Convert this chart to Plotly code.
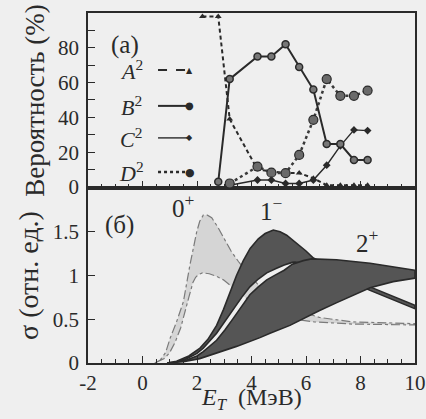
import plotly.graph_objects as go

# ---------------- data: top panel (probabilities, %) ----------------
e_A2 = [2.2, 2.78, 3.2, 4.22, 4.73, 5.25, 5.75, 6.27, 6.76, 7.26, 7.76, 8.26]
p_A2 = [98, 98, 39, 10, 9, 8, 8, 5, 1, 1, 1, 1]
e_B2 = [2.78, 3.2, 4.22, 4.73, 5.25, 5.75, 6.27, 6.76, 7.26, 7.76, 8.26]
p_B2 = [3, 62, 75, 75, 82, 69, 56, 24.7, 24.7, 15.5, 15.5]
e_C2 = [3.2, 4.22, 4.73, 5.25, 5.75, 6.27, 6.76, 7.26, 7.76, 8.26]
p_C2 = [1, 4, 4, 2, 2, 4, 12.5, 23.6, 32.8, 32.4]
e_D2 = [3.2, 4.22, 4.73, 5.25, 5.75, 6.27, 6.76, 7.26, 7.76, 8.26]
p_D2 = [2, 11.7, 8.2, 7.9, 18.4, 38.6, 62, 52.4, 52.4, 55.4]

# ---------------- data: bottom panel (cross-section bands) ----------------
e_0p_hi = [0.45, 0.64, 0.85, 1.01, 1.25, 1.5, 1.74, 1.99, 2.1, 2.23, 2.38, 2.54, 2.75, 2.97, 3.25, 3.52, 3.85, 4.2, 4.6, 5.0, 5.4, 5.8, 6.5, 7.7, 9.0, 10.0]
s_0p_hi = [0.0, 0.03, 0.12, 0.28, 0.47, 0.70, 1.12, 1.50, 1.62, 1.69, 1.69, 1.66, 1.56, 1.43, 1.28, 1.16, 1.03, 0.91, 0.80, 0.71, 0.64, 0.59, 0.52, 0.47, 0.455, 0.45]
e_0p_lo = [0.45, 0.8, 1.0, 1.2, 1.4, 1.55, 1.7, 1.85, 1.95, 2.05, 2.2, 2.45, 2.72, 2.97, 3.21, 3.5, 3.82, 4.5, 5.2, 5.8, 6.3, 7.7, 9.0, 10.0]
s_0p_lo = [0.0, 0.05, 0.12, 0.24, 0.40, 0.56, 0.75, 0.92, 0.98, 1.01, 1.03, 1.02, 0.99, 0.95, 0.89, 0.81, 0.74, 0.62, 0.54, 0.49, 0.47, 0.445, 0.44, 0.435]

e_1m_hi = [0.9, 1.25, 1.7, 2.11, 2.4, 2.72, 2.97, 3.21, 3.45, 3.70, 3.95, 4.25, 4.5, 4.8, 5.05, 5.29, 5.66, 6.0, 6.27, 7.0, 7.7, 8.35, 9.2, 10.0]
s_1m_hi = [0.0, 0.02, 0.08, 0.17, 0.27, 0.43, 0.61, 0.81, 1.00, 1.17, 1.31, 1.42, 1.48, 1.52, 1.50, 1.46, 1.37, 1.28, 1.20, 1.08, 0.97, 0.87, 0.76, 0.66]
e_1m_lo = [0.9, 1.5, 2.0, 2.23, 2.72, 3.03, 3.33, 3.64, 3.94, 4.25, 4.56, 4.9, 5.2, 5.5, 5.6, 6.2, 7.0, 7.7, 8.35, 9.2, 10.0]
s_1m_lo = [0.0, 0.03, 0.11, 0.17, 0.34, 0.47, 0.61, 0.75, 0.87, 0.96, 1.03, 1.08, 1.12, 1.15, 1.155, 1.12, 1.02, 0.92, 0.83, 0.72, 0.62]

e_2p_hi = [0.9, 1.5, 2.0, 2.23, 2.72, 3.03, 3.33, 3.64, 3.94, 4.25, 4.56, 4.9, 5.2, 5.5, 5.9, 6.2, 7.12, 8.35, 10.0]
s_2p_hi = [0.0, 0.02, 0.08, 0.13, 0.26, 0.38, 0.51, 0.65, 0.78, 0.87, 0.95, 1.01, 1.06, 1.13, 1.17, 1.19, 1.18, 1.14, 1.06]
e_2p_lo = [0.9, 1.5, 2.1, 2.72, 3.45, 4.31, 4.68, 5.41, 5.9, 6.5, 7.13, 7.75, 8.35, 9.2, 10.0]
s_2p_lo = [0.0, 0.015, 0.05, 0.11, 0.19, 0.29, 0.34, 0.43, 0.51, 0.60, 0.69, 0.78, 0.86, 0.93, 0.97]

x_ticks = [-2, 0, 2, 4, 6, 8, 10]
x_text = ["-2", "0", "2", "4", "6", "8", "10"]
y_top_ticks = [0, 20, 40, 60, 80]
y_top_text = ["0", "20", "40", "60", "80"]
y_bot_ticks = [0, 0.5, 1, 1.5]
y_bot_text = ["0", "0.5", "1", "1.5"]

# ---------------- styling ----------------
BG = "#efefef"
INK = "#2a2a2a"
FONT = "Liberation Serif, Times New Roman, DejaVu Serif, serif"

fig = go.Figure()

def band(e_hi, s_hi, e_lo, s_lo, fill, line, dash, width, name):
    xs = list(e_hi) + list(e_lo)[::-1]
    ys = list(s_hi) + list(s_lo)[::-1]
    fig.add_trace(go.Scatter(
        x=xs, y=ys, mode="lines", fill="toself", fillcolor=fill,
        line=dict(color=line, width=width, dash=dash),
        xaxis="x", yaxis="y", name=name, showlegend=False, hoverinfo="skip"))

band(e_0p_hi, s_0p_hi, e_0p_lo, s_0p_lo, "#d5d5d5", "#7a7a7a", "dashdot", 1.2, "0+")
band(e_1m_hi, s_1m_hi, e_1m_lo, s_1m_lo, "#555555", "#2a2a2a", "solid", 1.6, "1-")
band(e_2p_hi, s_2p_hi, e_2p_lo, s_2p_lo, "#555555", "#2a2a2a", "solid", 1.6, "2+")

# top panel lines
fig.add_trace(go.Scatter(x=e_A2, y=p_A2, mode="lines+markers", xaxis="x2", yaxis="y2",
                         line=dict(color=INK, width=2, dash="4px,3px"),
                         marker=dict(symbol="triangle-up", size=6, color=INK),
                         showlegend=False, name="A2"))
fig.add_trace(go.Scatter(x=e_C2, y=p_C2, mode="lines+markers", xaxis="x2", yaxis="y2",
                         line=dict(color=INK, width=1.4),
                         marker=dict(symbol="diamond", size=6, color=INK),
                         showlegend=False, name="C2"))
fig.add_trace(go.Scatter(x=e_D2, y=p_D2, mode="lines+markers", xaxis="x2", yaxis="y2",
                         line=dict(color="#3a3a3a", width=2.5, dash="dot"),
                         marker=dict(symbol="circle", size=9, color="#6a6a6a",
                                     line=dict(color="#2a2a2a", width=1.2)),
                         showlegend=False, name="D2"))
fig.add_trace(go.Scatter(x=e_B2, y=p_B2, mode="lines+markers", xaxis="x2", yaxis="y2",
                         line=dict(color=INK, width=2),
                         marker=dict(symbol="circle", size=7, color="#777777",
                                     line=dict(color=INK, width=1.5)),
                         showlegend=False, name="B2"))

annotations = []
shapes = []

# legend (drawn manually: label, line sample, marker at right end)
leg = [("<i>A</i><sup>2</sup>", 67.2, "dash", 2, "▲", 8),
       ("<i>B</i><sup>2</sup>", 46.6, "solid", 2, "●", 10),
       ("<i>C</i><sup>2</sup>", 28.2, "solid", 1.4, "◆", 8),
       ("<i>D</i><sup>2</sup>", 8.6, "dot", 2.5, "●", 11)]
for txt, yv, dash, w, glyph, gs in leg:
    annotations.append(dict(x=-0.42, y=yv, xref="x2", yref="y2", text=txt, showarrow=False,
                            font=dict(family=FONT, size=22, color=INK)))
    shapes.append(dict(type="line", xref="x2", yref="y2", x0=0.57, x1=1.70, y0=yv, y1=yv,
                       line=dict(color=INK, width=w, dash=dash)))
    annotations.append(dict(x=1.74, y=yv, xref="x2", yref="y2", text=glyph, showarrow=False,
                            font=dict(family="DejaVu Sans", size=gs, color=INK)))

annotations.append(dict(x=-0.64, y=81.6, xref="x2", yref="y2", text="(а)", showarrow=False,
                        font=dict(family=FONT, size=25, color=INK)))
annotations.append(dict(x=-0.83, y=1.58, xref="x", yref="y", text="(б)", showarrow=False,
                        font=dict(family=FONT, size=25, color=INK)))
annotations.append(dict(x=1.49, y=1.80, xref="x", yref="y", text="0<sup>+</sup>", showarrow=False,
                        font=dict(family=FONT, size=25, color=INK)))
annotations.append(dict(x=4.75, y=1.76, xref="x", yref="y", text="1<sup>−</sup>", showarrow=False,
                        font=dict(family=FONT, size=25, color=INK)))
annotations.append(dict(x=8.25, y=1.39, xref="x", yref="y", text="2<sup>+</sup>", showarrow=False,
                        font=dict(family=FONT, size=25, color=INK)))
# x-axis title placed under the tick labels
annotations.append(dict(x=0.5, y=-0.104, xref="paper", yref="paper", yanchor="middle",
                        text="<i>E</i><sub><i>T</i></sub>  (МэВ)", showarrow=False,
                        font=dict(family=FONT, size=24, color=INK)))

axis_common = dict(showline=True, linecolor=INK, linewidth=1.5, mirror=True,
                   ticks="inside", tickcolor=INK, showgrid=False, zeroline=False,
                   automargin=False, ticklabeloverflow="allow",
                   tickfont=dict(family=FONT, size=21, color=INK))

fig.update_layout(
    width=426, height=419,
    margin=dict(l=88, r=11, t=13, b=56, autoexpand=False),
    paper_bgcolor=BG, plot_bgcolor=BG,
    showlegend=False,
    font=dict(family=FONT, color=INK),
    xaxis=dict(axis_common, domain=[0, 1], anchor="y", range=[-2, 10],
               tickvals=x_ticks, ticktext=x_text, ticklen=7, tickwidth=1.2,
               minor=dict(dtick=0.5, ticklen=4, tickcolor=INK, ticks="inside")),
    yaxis=dict(axis_common, domain=[0, 0.5], anchor="x", range=[0, 2],
               tickvals=y_bot_ticks, ticktext=y_bot_text, ticklen=7, tickwidth=1.2,
               ticklabelstandoff=3,
               title=dict(text="σ (отн. ед.)", standoff=6,
                          font=dict(family=FONT, size=28, color=INK))),
    xaxis2=dict(axis_common, domain=[0, 1], anchor="y2", range=[-2, 10], matches="x",
                tickvals=x_ticks, showticklabels=False, ticklen=7, tickwidth=1.2,
                minor=dict(dtick=0.5, ticklen=4, tickcolor=INK, ticks="inside")),
    yaxis2=dict(axis_common, domain=[0.5, 1], anchor="x2", range=[-0.6, 100],
                tickvals=y_top_ticks, ticktext=y_top_text, ticklen=7, tickwidth=1.2,
                ticklabelstandoff=3,
                minor=dict(dtick=10, ticklen=7, tickcolor=INK, ticks="inside"),
                title=dict(text="Вероятность (%)", standoff=6,
                           font=dict(family=FONT, size=27, color=INK))),
    annotations=annotations,
    shapes=shapes,
)

# remove the browser's default page margin so the figure fills the window
page_fix = ("document.body.style.margin='0px';document.body.style.padding='0px';"
            "document.body.style.background='" + BG + "';")
fig.write_html("out.html", post_script=page_fix, config={"displayModeBar": False})
